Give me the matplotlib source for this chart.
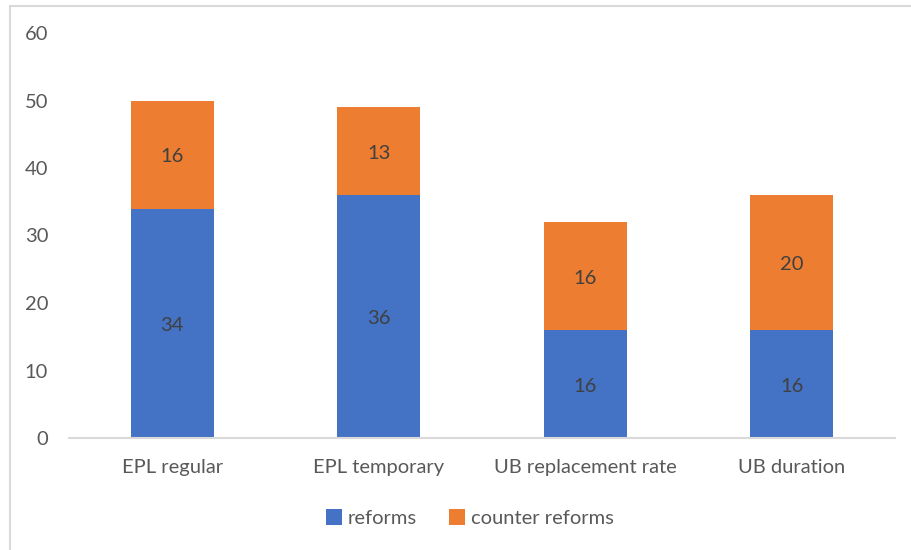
import matplotlib
matplotlib.use("Agg")
import matplotlib.pyplot as plt
from matplotlib.lines import Line2D
import numpy as np

categories = ["EPL regular", "EPL temporary", "UB replacement rate", "UB duration"]
reforms = [34, 36, 16, 16]
counter_reforms = [16, 13, 16, 20]
yticks = [0, 10, 20, 30, 40, 50, 60]

plt.rcParams['font.family'] = ['Lato', 'DejaVu Sans']

fig = plt.figure(figsize=(9.12, 5.50), dpi=100)
ax = fig.add_axes([69/912, 1-438/550, (895-69)/912, (438-33)/550])

x = np.arange(len(categories))
w = 0.40
blue = "#4472C4"
orange = "#ED7D31"
b1 = ax.bar(x, reforms, w, color=blue, label="reforms", zorder=2)
b2 = ax.bar(x, counter_reforms, w, bottom=reforms, color=orange, label="counter reforms", zorder=2)

fs = 14.5
for i in range(len(categories)):
    ax.text(x[i], reforms[i] / 2 - 0.3, str(reforms[i]), ha="center", va="center",
            fontsize=fs, color="#404040")
    ax.text(x[i], reforms[i] + counter_reforms[i] / 2 - 0.3, str(counter_reforms[i]),
            ha="center", va="center", fontsize=fs, color="#404040")

ax.set_xlim(-0.5, len(categories) - 0.5)
ax.set_ylim(0, 60)
ax.set_yticks(yticks)
ax.set_yticklabels([str(t) for t in yticks], fontsize=fs, color="#595959")
ax.set_xticks(x)
ax.set_xticklabels(categories, fontsize=fs, color="#595959")
ax.tick_params(axis="both", length=0)
ax.tick_params(axis="y", pad=15)
ax.tick_params(axis="x", pad=15)
for s in ["top", "right", "left"]:
    ax.spines[s].set_visible(False)
ax.spines["bottom"].set_color("#D9D9D9")
ax.spines["bottom"].set_linewidth(1.5)

leg = fig.legend(handles=[b1, b2], loc="center", bbox_to_anchor=(470/912, 1-518/550),
                 ncol=2, frameon=False, fontsize=fs, handlelength=0.8, handleheight=0.8,
                 handletextpad=0.3, columnspacing=1.6)
for t in leg.get_texts():
    t.set_color("#595959")

fig.add_artist(Line2D([10/912, 10/912], [0, 1-6/550], transform=fig.transFigure,
                      color="#D9D9D9", lw=1.5))
fig.add_artist(Line2D([10/912, 1], [1-6/550, 1-6/550], transform=fig.transFigure,
                      color="#D9D9D9", lw=1.5))

fig.savefig("out.png", dpi=100)
